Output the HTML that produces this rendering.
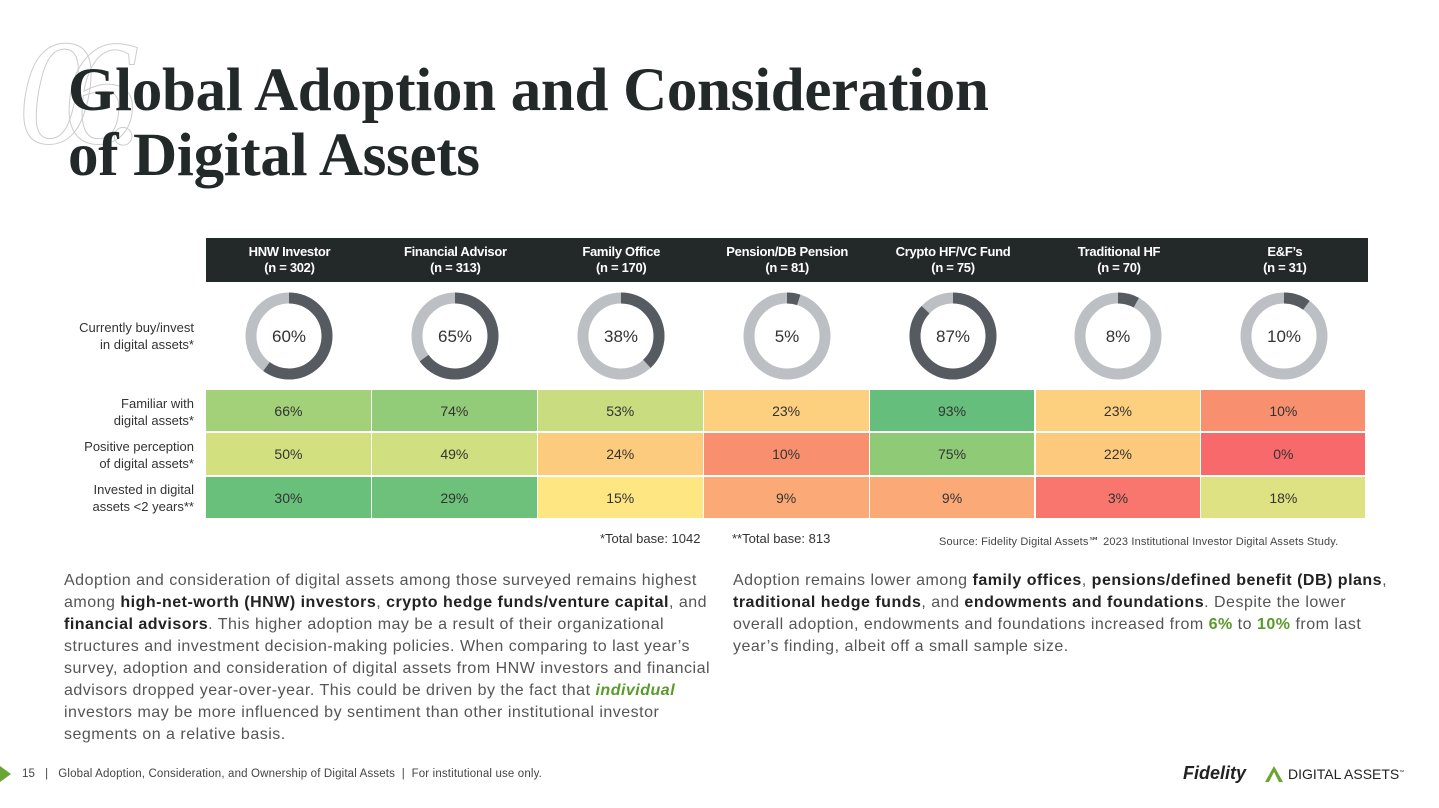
<!DOCTYPE html>
<html><head><meta charset="utf-8"><style>
body{margin:0;width:1439px;height:808px;background:#fff;position:relative;overflow:hidden;font-family:"Liberation Sans",sans-serif;color:#222}
.a{position:absolute}
.h{position:absolute;top:238px;height:44px;background:#232829;color:#fff;font-weight:bold;font-size:13px;text-align:center;line-height:16px;padding-top:6px;box-sizing:border-box;letter-spacing:-0.3px}
.c{position:absolute;font-size:14px;color:#333;text-align:center;box-sizing:border-box;border-right:2px solid #fff;border-bottom:2px solid #fff}
.rl{position:absolute;right:1245px;text-align:right;font-size:13px;line-height:17px;color:#333}
p{margin:0;font-size:16px;line-height:22px;color:#555;position:absolute;letter-spacing:0.5px}
p b{color:#222}
</style></head><body>
<div class="a" style="left:18px;top:18px;font-family:'Liberation Serif',serif;font-size:150px;font-style:italic;color:transparent;-webkit-text-stroke:1px #ccc;line-height:150px;letter-spacing:-30px">06.</div>
<div class="a" style="left:68px;top:58px;font-family:'Liberation Serif',serif;font-size:61px;font-weight:bold;line-height:65px;color:#232829;letter-spacing:-0.3px">Global Adoption and Consideration<br>of Digital Assets</div>

<div class="rl" style="top:319px">Currently buy/invest<br>in digital assets*</div>
<div class="rl" style="top:395px">Familiar with<br>digital assets*</div>
<div class="rl" style="top:438px">Positive perception<br>of digital assets*</div>
<div class="rl" style="top:481px">Invested in digital<br>assets &lt;2 years**</div>

<div id="g"></div>
<script>
var H=[["HNW Investor","302"],["Financial Advisor","313"],["Family Office","170"],["Pension/DB Pension","81"],["Crypto HF/VC Fund","75"],["Traditional HF","70"],["E&amp;F’s","31"]];
var D=[60,65,38,5,87,8,10];
var R=[[["66%","#a3d17a"],["74%","#92cc78"],["53%","#c9dc80"],["23%","#fdd07f"],["93%","#65be7b"],["23%","#fdd07f"],["10%","#f8906f"]],
[["50%","#d2e07f"],["49%","#d0df7f"],["24%","#fdcb7e"],["10%","#f8906f"],["75%","#8fcb77"],["22%","#fdca7d"],["0%","#f8696b"]],
[["30%","#69c07b"],["29%","#6ec17b"],["15%","#fee783"],["9%","#fbaa77"],["9%","#fbaa77"],["3%","#f8766d"],["18%","#dfe282"]]];
var s="",w=165.9,C=2*Math.PI*38;
for(var i=0;i<7;i++){var x=206+i*w;
s+='<div class="h" style="left:'+x+'px;width:'+(w+1)+'px">'+H[i][0]+'<br>(n = '+H[i][1]+')</div>';
var cx=x+w/2;
s+='<svg class="a" style="left:'+(cx-50)+'px;top:286px" width="100" height="100"><circle cx="50" cy="50" r="38" fill="none" stroke="#bcbfc3" stroke-width="11"/><circle cx="50" cy="50" r="38" fill="none" stroke="#555b61" stroke-width="11" stroke-dasharray="'+(C*D[i]/100)+' '+C+'" transform="rotate(-90 50 50)"/><text x="50" y="56" text-anchor="middle" font-family="Liberation Sans" font-size="17" fill="#333">'+D[i]+'%</text></svg>';
for(var r=0;r<3;r++){var y=390+r*43.4;
s+='<div class="c" style="left:'+x+'px;top:'+y+'px;width:'+(i==6?w:w+1)+'px;height:'+(r==2?43:43.4)+'px;line-height:43px;background:'+R[r][i][1]+'">'+R[r][i][0]+'</div>';}}
document.getElementById("g").innerHTML=s;
</script>
<div class="a" style="left:600px;top:531px;font-size:13px;color:#333">*Total base: 1042</div>
<div class="a" style="left:732px;top:531px;font-size:13px;color:#333">**Total base: 813</div>
<div class="a" style="left:939px;top:535px;font-size:11px;color:#444;letter-spacing:0.15px">Source: Fidelity Digital Assets℠ 2023 Institutional Investor Digital Assets Study.</div>

<p style="left:64px;top:570px;width:655px">Adoption and consideration of digital assets among those surveyed remains highest among <b>high-net-worth (HNW) investors</b>, <b>crypto hedge funds/venture capital</b>, and <b>financial advisors</b>. This higher adoption may be a result of their organizational structures and investment decision-making policies. When comparing to last year’s survey, adoption and consideration of digital assets from HNW investors and financial advisors dropped year-over-year. This could be driven by the fact that <b style="color:#5a9a2a"><i>individual</i></b> investors may be more influenced by sentiment than other institutional investor segments on a relative basis.</p>
<p style="left:733px;top:570px;width:655px">Adoption remains lower among <b>family offices</b>, <b>pensions/defined benefit (DB) plans</b>, <b>traditional hedge funds</b>, and <b>endowments and foundations</b>. Despite the lower overall adoption, endowments and foundations increased from <b style="color:#5a9a2a">6%</b> to <b style="color:#5a9a2a">10%</b> from last year’s finding, albeit off a small sample size.</p>

<div class="a" style="left:0;top:766px;width:0;height:0;border-top:8px solid transparent;border-bottom:8px solid transparent;border-left:11px solid #6aa533"></div>
<div class="a" style="left:22px;top:768px;font-size:11.5px;color:#444;letter-spacing:0.15px">15 &nbsp;&nbsp;|&nbsp;&nbsp; Global Adoption, Consideration, and Ownership of Digital Assets &nbsp;|&nbsp; For institutional use only.</div>
<div class="a" style="left:1183px;top:763px;font-size:18px;font-weight:bold;font-style:italic;color:#222">Fidelity</div>
<svg class="a" style="left:1264px;top:765px" width="20" height="18"><polygon points="10,1 19,17 1,17" fill="#6aa533"/><polygon points="10,7 15,17 5,17" fill="#fff"/></svg>
<div class="a" style="left:1288px;top:766px;font-size:14px;color:#222">DIGITAL ASSETS<sup style="font-size:5px">™</sup></div>
</body></html>
